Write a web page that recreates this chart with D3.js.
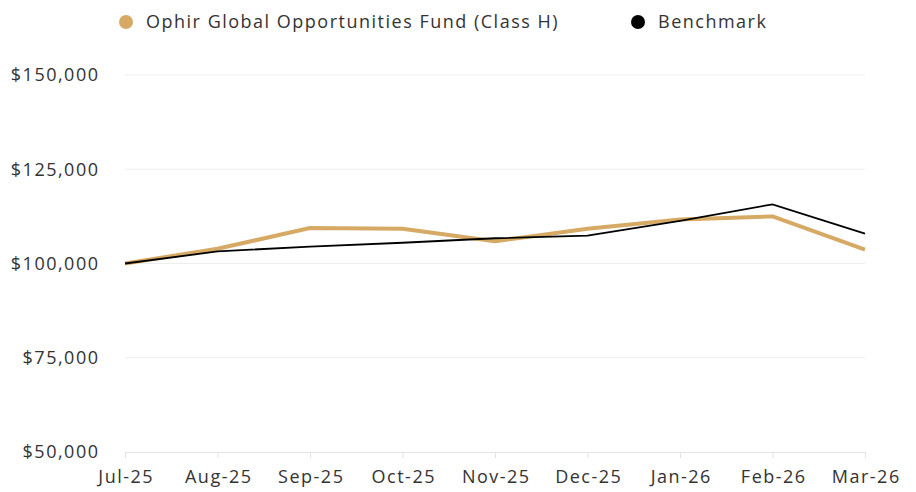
<!DOCTYPE html>
<html>
<head>
<meta charset="utf-8">
<script src="https://cdn.jsdelivr.net/npm/d3@7"></script>
<style>
  body { margin: 0; background: #fff; }
  svg text { font-family: "Open Sans", "Noto Sans", sans-serif; fill: #333; letter-spacing: 1.5px; }
</style>
</head>
<body>
<svg id="chart" width="916" height="492"></svg>
<script>
const months = ['Jul-25', 'Aug-25', 'Sep-25', 'Oct-25', 'Nov-25', 'Dec-25', 'Jan-26', 'Feb-26', 'Mar-26'];
const fundValues = [100000, 103900, 109400, 109200, 105900, 109200, 111700, 112500, 103700];
const benchValues = [100000, 103200, 104500, 105500, 106700, 107400, 111300, 115700, 107900];
const yTicks = [50000, 75000, 100000, 125000, 150000];
const seriesNames = ['Ophir Global Opportunities Fund (Class H)', 'Benchmark'];
const seriesColors = ['#d6aa64', '#000'];

const svg = d3.select('#chart');
const margin = { top: 75, right: 51, bottom: 40, left: 125 };
const width = 916 - margin.left - margin.right;
const height = 492 - margin.top - margin.bottom;

const x = d3.scalePoint().domain(months).range([0, width]);
const y = d3.scaleLinear().domain([50000, 150000]).range([height, 0]);

const g = svg.append('g').attr('transform', 'translate(' + margin.left + ',' + margin.top + ')');

// grid
g.selectAll('.grid')
  .data(yTicks.slice(1))
  .enter().append('line')
  .attr('x1', 0).attr('x2', width)
  .attr('y1', d => y(d)).attr('y2', d => y(d))
  .attr('stroke', '#eeeeee');

// y labels
g.selectAll('.ylab')
  .data(yTicks)
  .enter().append('text')
  .attr('x', -25.5)
  .attr('y', d => y(d))
  .attr('dy', '0.35em')
  .attr('text-anchor', 'end')
  .style('font-size', '18px')
  .text(d => '$' + d3.format(',')(d));

// x axis
const xAxis = g.append('g')
  .attr('transform', 'translate(0,' + height + ')')
  .call(d3.axisBottom(x).tickSize(6).tickPadding(12));
xAxis.select('.domain').attr('stroke', '#e3e3e3');
xAxis.selectAll('.tick line').attr('stroke', '#e3e3e3');
xAxis.selectAll('.tick text')
  .style('font-size', '18px')
  .style('font-family', '"Open Sans", sans-serif')
  .attr('fill', '#333')
  .attr('dx', '0.75');

const line = d3.line()
  .x((d, i) => x(months[i]))
  .y(d => y(d));

g.append('path')
  .datum(fundValues)
  .attr('fill', 'none')
  .attr('stroke', seriesColors[0])
  .attr('stroke-width', 4)
  .attr('stroke-linejoin', 'round')
  .attr('d', line);

g.append('path')
  .datum(benchValues)
  .attr('fill', 'none')
  .attr('stroke', seriesColors[1])
  .attr('stroke-width', 1.8)
  .attr('d', line);

// legend
const legendX = [126, 638];
const legend = svg.selectAll('.legend')
  .data(seriesNames)
  .enter().append('g')
  .attr('transform', (d, i) => 'translate(' + legendX[i] + ',22)');
legend.append('circle')
  .attr('r', 7)
  .attr('fill', (d, i) => seriesColors[i]);
legend.append('text')
  .attr('x', 20)
  .attr('dy', '0.35em')
  .style('font-size', '18px')
  .text(d => d);
</script>
</body>
</html>
